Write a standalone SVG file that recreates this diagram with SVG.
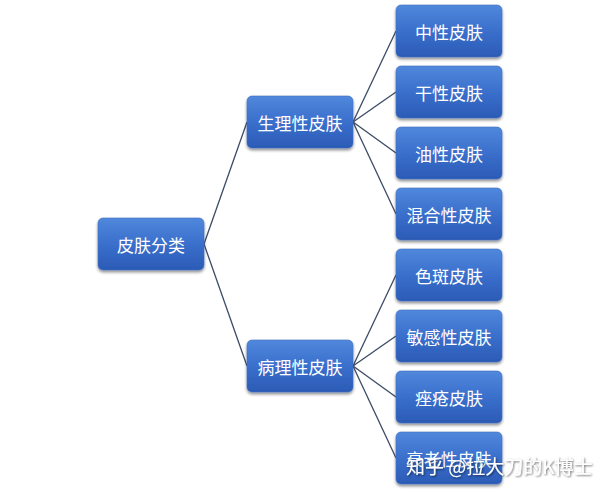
<svg xmlns="http://www.w3.org/2000/svg" width="600" height="493" viewBox="0 0 600 493">
<defs>
<linearGradient id="g" x1="0" y1="0" x2="0" y2="1">
<stop offset="0" stop-color="#5088dc"/>
<stop offset="0.5" stop-color="#3a6fcc"/>
<stop offset="1" stop-color="#2b5bb6"/>
</linearGradient>
<filter id="sh" x="-10%" y="-10%" width="120%" height="130%">
<feGaussianBlur in="SourceAlpha" stdDeviation="1.6"/>
<feOffset dx="0" dy="2" result="b"/>
<feComponentTransfer><feFuncA type="linear" slope="0.45"/></feComponentTransfer>
<feMerge><feMergeNode/><feMergeNode in="SourceGraphic"/></feMerge>
</filter>
<filter id="ts" x="-5%" y="-20%" width="110%" height="140%">
<feGaussianBlur in="SourceAlpha" stdDeviation="1"/>
<feOffset dx="1" dy="1"/>
<feComponentTransfer><feFuncA type="linear" slope="0.6"/></feComponentTransfer>
<feMerge><feMergeNode/><feMergeNode in="SourceGraphic"/></feMerge>
</filter>
</defs>
<style>
.n rect{fill:url(#g);stroke:#3f6fbf;stroke-width:0.6;filter:url(#sh)}
.n text{fill:#ffffff;font-family:"Noto Sans CJK SC","Noto Sans",sans-serif;font-size:17px;text-anchor:middle;dominant-baseline:central}
.c line{stroke:#3b4a66;stroke-width:1.3}
.wm{fill:#ffffff;font-family:"Noto Sans CJK SC","Noto Sans",sans-serif;font-size:19px;filter:url(#ts)}
</style>
<rect width="600" height="493" fill="#ffffff"/>
<g class="c" id="connectors">
<line x1="204" y1="244" x2="247" y2="122"/>
<line x1="204" y1="244" x2="247" y2="366"/>
<line x1="353" y1="122" x2="396" y2="31"/>
<line x1="353" y1="122" x2="396" y2="92"/>
<line x1="353" y1="122" x2="396" y2="153"/>
<line x1="353" y1="122" x2="396" y2="214"/>
<line x1="353" y1="366" x2="396" y2="275"/>
<line x1="353" y1="366" x2="396" y2="336"/>
<line x1="353" y1="366" x2="396" y2="397"/>
<line x1="353" y1="366" x2="396" y2="458"/>
</g>
<g class="n" id="root"><rect x="98" y="218" width="106" height="52" rx="5"/><text x="151" y="244">皮肤分类</text></g>
<g class="n" id="physio"><rect x="247" y="96" width="106" height="52" rx="5"/><text x="300" y="122">生理性皮肤</text></g>
<g class="n" id="patho"><rect x="247" y="340" width="106" height="52" rx="5"/><text x="300" y="366">病理性皮肤</text></g>
<g class="n" id="neutral"><rect x="396" y="5" width="106" height="52" rx="5"/><text x="449" y="31">中性皮肤</text></g>
<g class="n" id="dry"><rect x="396" y="66" width="106" height="52" rx="5"/><text x="449" y="92">干性皮肤</text></g>
<g class="n" id="oily"><rect x="396" y="127" width="106" height="52" rx="5"/><text x="449" y="153">油性皮肤</text></g>
<g class="n" id="mixed"><rect x="396" y="188" width="106" height="52" rx="5"/><text x="449" y="214">混合性皮肤</text></g>
<g class="n" id="spot"><rect x="396" y="249" width="106" height="52" rx="5"/><text x="449" y="275">色斑皮肤</text></g>
<g class="n" id="sensitive"><rect x="396" y="310" width="106" height="52" rx="5"/><text x="449" y="336">敏感性皮肤</text></g>
<g class="n" id="acne"><rect x="396" y="371" width="106" height="52" rx="5"/><text x="449" y="397">痤疮皮肤</text></g>
<g class="n" id="aging"><rect x="396" y="432" width="106" height="52" rx="5"/><text x="449" y="458">衰老性皮肤</text></g>
<text class="wm" x="406" y="474">知乎 @拉大刀的K博士</text>
</svg>
